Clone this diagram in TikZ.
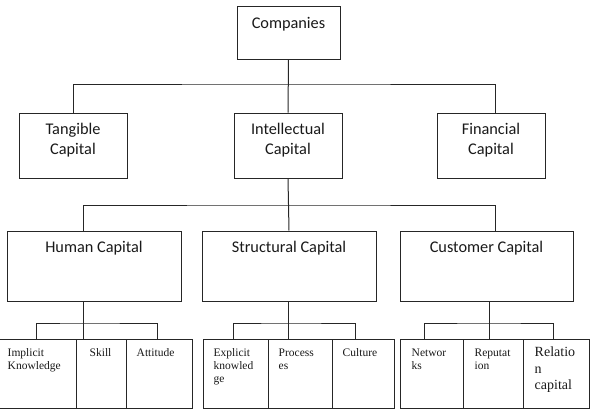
\documentclass[tikz,border=0pt]{standalone}
\usepackage{fontspec}
\setmainfont{Liberation Serif}
\newfontfamily\calfont{Carlito}
\usetikzlibrary{fit,calc}
\begin{document}
\begin{tikzpicture}[x=1pt,y=-1pt,
  box/.style={draw=black!85, line width=1pt, inner sep=0pt, rectangle},
  head/.style={anchor=north, inner sep=0pt, align=center, text=black!90, font=\calfont\fontsize{16.3}{20}\selectfont},
  leaf/.style={anchor=north west, inner sep=0pt, align=left, text=black!90, font=\fontsize{11.5}{13}\selectfont},
  bigleaf/.style={leaf, font=\fontsize{14}{16.5}\selectfont},
  link/.style={draw=black!85, line width=1pt}]
\useasboundingbox (0,0) rectangle (592,410);
% level 0
\node[box, fit={(237,6) (340,59)}] (comp) {};
% level 1
\node[box, fit={(19,113) (127,178)}] (tang) {};
\node[box, fit={(234,113) (342,178)}] (intel) {};
\node[box, fit={(437,113) (545,178)}] (fin) {};
% level 2
\node[box, fit={(7,231) (181,301)}] (hum) {};
\node[box, fit={(202,231) (376,301)}] (struc) {};
\node[box, fit={(400,231) (573,301)}] (cust) {};
% level 3
\node[box, fit={(-3,339) (76,408)}] (impl) {};
\node[box, fit={(76,339) (126,408)}] (skill) {};
\node[box, fit={(126,339) (192,408)}] (att) {};
\node[box, fit={(203,339) (268,408)}] (expl) {};
\node[box, fit={(268,339) (332,408)}] (proc) {};
\node[box, fit={(332,339) (394,408)}] (cult) {};
\node[box, fit={(400,339) (463,408)}] (net) {};
\node[box, fit={(463,339) (523,408)}] (rep) {};
\node[box, fit={(523,339) (589,408)}] (rel) {};
% texts
\node[head] (compt) at ($(comp.north)+(0,8.5)$) {\strut Companies};
\node[head] (tangt) at ($(tang.north)+(0,8)$) {\strut Tangible\\\strut Capital};
\node[head] (intelt) at ($(intel.north)+(0,8)$) {\strut Intellectual\\\strut Capital};
\node[head] (fint) at ($(fin.north)+(0,8)$) {\strut Financial\\\strut Capital};
\node[head] (humt) at ($(hum.north)+(0,8)$) {\strut Human Capital};
\node[head] (struct) at ($(struc.north)+(0,8)$) {\strut Structural Capital};
\node[head] (custt) at ($(cust.north)+(0,8)$) {\strut Customer Capital};
\node[leaf] (implt) at ($(impl.north west)+(11,8.4)$) {\strut Implicit\\\strut Knowledge};
\node[leaf] (skillt) at ($(skill.north west)+(14,8.4)$) {\strut Skill};
\node[leaf] (attt) at ($(att.north west)+(11,8.4)$) {\strut Attitude};
\node[leaf] (explt) at ($(expl.north west)+(11,8.4)$) {\strut Explicit\\\strut knowled\\\strut ge};
\node[leaf] (proct) at ($(proc.north west)+(11,8.4)$) {\strut Process\\\strut es};
\node[leaf] (cultt) at ($(cult.north west)+(11,8.4)$) {\strut Culture};
\node[leaf] (nett) at ($(net.north west)+(12,8.4)$) {\strut Networ\\\strut ks};
\node[leaf] (rept) at ($(rep.north west)+(12,8.4)$) {\strut Reputat\\\strut ion};
\node[bigleaf] (relt) at ($(rel.north west)+(12,6.5)$) {\strut Relatio\\\strut n\\\strut capital};
% connectors
\coordinate (b1) at (288,84);
\coordinate (b2) at (288,205);
\coordinate (b3) at (83,323);
\coordinate (b4) at (288,323);
\coordinate (b5) at (489,323);
\draw[link] (comp.south) -- (intel.north);
\draw[link] (tang.north) |- (b1) -| ($(fin.north)+(4,0)$);
\draw[link] (intel.south) -- (struc.north);
\draw[link] ($(hum.north)+(-11,0)$) |- (b2) -| ($(cust.north)+(8.5,0)$);
\draw[link] (hum.south -| b3) -- (b3 |- skill.north);
\draw[link] (impl.north) |- (b3) -| ($(att.north)+(-2,0)$);
\draw[link] (struc.south -| b4) -- (b4 |- proc.north);
\draw[link] ($(expl.north)+(-2.5,0)$) |- (b4) -| ($(cult.north)+(-8,0)$);
\draw[link] (cust.south -| b5) -- (b5 |- rep.north);
\draw[link] ($(net.north)+(-7.5,0)$) |- (b5) -| ($(rel.north)+(-3,0)$);
\end{tikzpicture}
\end{document}
